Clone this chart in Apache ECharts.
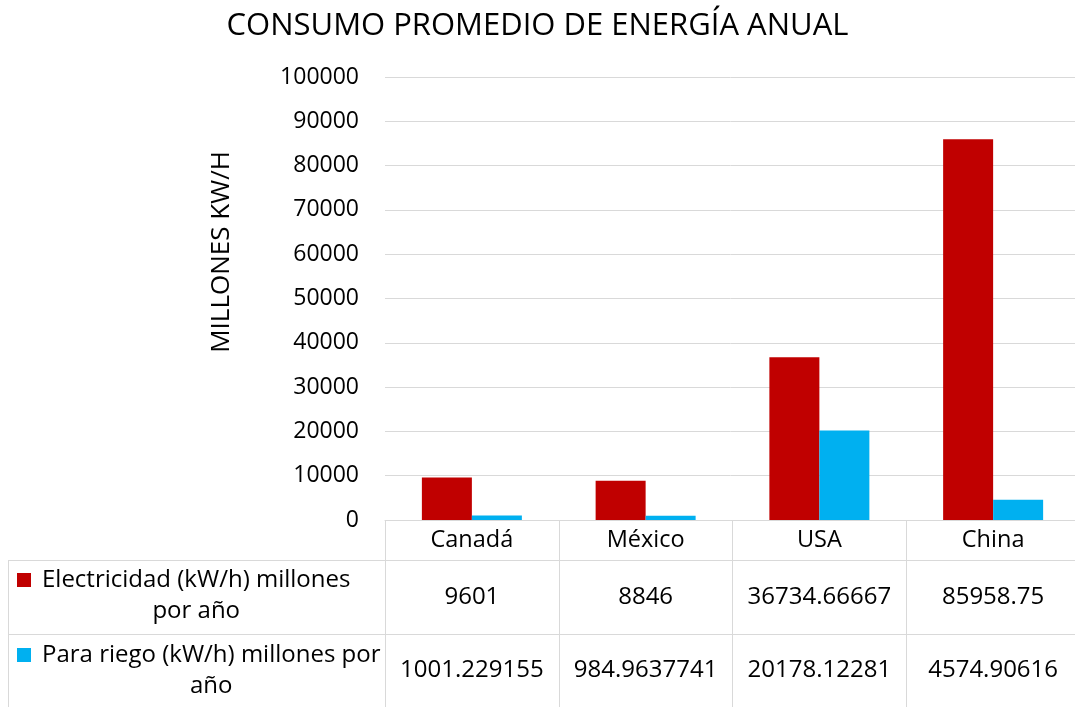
<!DOCTYPE html>
<html>
<head>
<meta charset="utf-8">
<script src="https://cdn.jsdelivr.net/npm/echarts@6/dist/echarts.min.js"></script>
<style>
html,body{margin:0;padding:0;background:#fff;}
#chart{width:1075px;height:707px;}
</style>
</head>
<body>
<div id="chart"></div>
<script>
const titleText = 'CONSUMO PROMEDIO DE ENERGÍA ANUAL';
const yAxisTitle = 'MILLONES KW/H';
const categories = ['Canadá', 'México', 'USA', 'China'];
const seriesNames = ['Electricidad (kW/h) millones por año', 'Para riego (kW/h) millones por año'];
const legendLines = [['Electricidad (kW/h) millones', 'por año'], ['Para riego (kW/h) millones por', 'año']];
const electricidad = [9601, 8846, 36734.66667, 85958.75];
const riego = [1001.229155, 984.9637741, 20178.12281, 4574.90616];
const yTicks = { min: 0, max: 100000, interval: 10000 };
const colors = ['#C00000', '#00B0F0'];

const FONT = '"Open Sans", sans-serif';
const TXT = '#000000';
const GRIDC = '#d9d9d9';
const TABLE_FS = 24;

const chart = echarts.init(document.getElementById('chart'), null, { renderer: 'canvas' });

function textWidth(str, size) {
  const c = document.createElement('canvas').getContext('2d');
  c.font = size + 'px "Open Sans"';
  return c.measureText(str).width;
}

function legendText(lines, top) {
  const w = Math.max.apply(null, lines.map(l => textWidth(l, TABLE_FS)));
  return {
    type: 'text', x: 42 + w / 2, y: top,
    style: {
      text: lines.join('\n'), align: 'center', verticalAlign: 'top',
      fontFamily: FONT, fontSize: TABLE_FS, lineHeight: 31, fill: TXT
    }
  };
}

const option = {
  animation: false,
  backgroundColor: '#ffffff',
  title: {
    text: titleText,
    left: 'center',
    top: 6,
    textStyle: { fontFamily: FONT, fontSize: 31, fontWeight: 'normal', color: TXT }
  },
  grid: { left: 385, width: 695, top: 77, bottom: 187, containLabel: false, outerBoundsMode: 'none' },
  xAxis: [
    {
      type: 'category',
      data: categories,
      position: 'bottom',
      axisLine: { show: true, lineStyle: { color: GRIDC, width: 1 } },
      axisTick: { show: true, length: 200, lineStyle: { color: GRIDC, width: 1 } },
      axisLabel: { fontFamily: FONT, fontSize: 23.5, lineHeight: 23, color: TXT, margin: 9, interval: 0 }
    },
    {
      type: 'category',
      data: categories,
      position: 'bottom',
      offset: 66,
      axisLine: { show: false },
      axisTick: { show: false },
      axisLabel: {
        fontFamily: FONT, fontSize: TABLE_FS, lineHeight: 23, color: TXT, margin: 0, interval: 0,
        formatter: (v, i) => String(electricidad[i])
      }
    },
    {
      type: 'category',
      data: categories,
      position: 'bottom',
      offset: 139,
      axisLine: { show: false },
      axisTick: { show: false },
      axisLabel: {
        fontFamily: FONT, fontSize: TABLE_FS, lineHeight: 23, color: TXT, margin: 0, interval: 0,
        formatter: (v, i) => String(riego[i])
      }
    }
  ],
  yAxis: {
    type: 'value',
    min: yTicks.min,
    max: yTicks.max,
    interval: yTicks.interval,
    axisLine: { show: false },
    axisTick: { show: false },
    splitLine: { show: true, lineStyle: { color: GRIDC, width: 1 } },
    axisLabel: { fontFamily: FONT, fontSize: 23, color: TXT, margin: 26, formatter: v => String(v) }
  },
  series: [
    {
      name: seriesNames[0],
      type: 'bar',
      xAxisIndex: 0,
      data: electricidad,
      barWidth: 50,
      barGap: '0%',
      itemStyle: { color: colors[0] }
    },
    {
      name: seriesNames[1],
      type: 'bar',
      xAxisIndex: 0,
      data: riego,
      barWidth: 50,
      barGap: '0%',
      itemStyle: { color: colors[1] }
    }
  ],
  graphic: [
    { type: 'line', shape: { x1: 8, y1: 560.5, x2: 1080, y2: 560.5 }, style: { stroke: GRIDC, lineWidth: 1 }, silent: true },
    { type: 'line', shape: { x1: 8, y1: 634.5, x2: 1080, y2: 634.5 }, style: { stroke: GRIDC, lineWidth: 1 }, silent: true },
    { type: 'line', shape: { x1: 8.5, y1: 560, x2: 8.5, y2: 710 }, style: { stroke: GRIDC, lineWidth: 1 }, silent: true },
    {
      type: 'text', x: 222, y: 252, rotation: Math.PI / 2,
      style: { text: yAxisTitle, fontFamily: FONT, fontSize: 26, fill: TXT, align: 'center', verticalAlign: 'middle' }
    },
    { type: 'rect', shape: { x: 17, y: 573, width: 14, height: 14 }, style: { fill: colors[0] } },
    legendText(legendLines[0], 565),
    { type: 'rect', shape: { x: 17, y: 648, width: 14, height: 14 }, style: { fill: colors[1] } },
    legendText(legendLines[1], 640)
  ]
};
chart.setOption(option);
</script>
</body>
</html>
